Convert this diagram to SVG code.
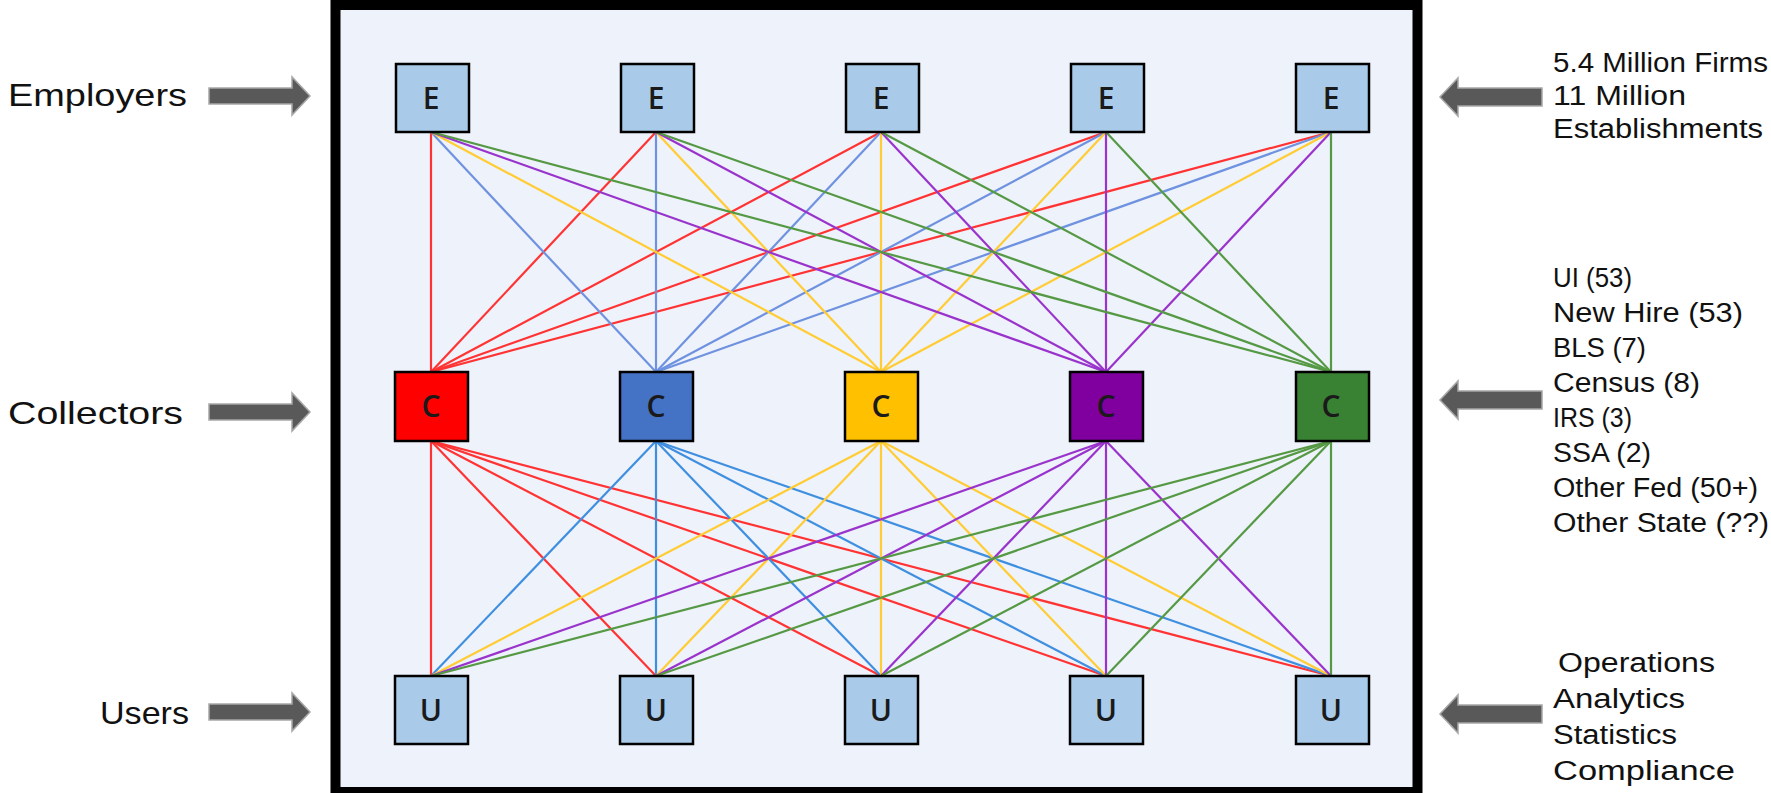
<svg xmlns="http://www.w3.org/2000/svg" width="1771" height="793" viewBox="0 0 1771 793">
<style>
.lbl{font-family:"Liberation Sans",Arial,sans-serif;font-size:32px;fill:#111}
.rt{font-family:"Liberation Sans",Arial,sans-serif;font-size:27px;fill:#111}
.box{stroke:#000;stroke-width:2.5}
.lt{fill:#a9cbe9}
.nl{font-family:"Open Sans","Liberation Sans",sans-serif;font-size:30px;font-weight:600;fill:#1a1a1a;text-anchor:middle}
.arr{fill:#595959;stroke:#a6a6a6;stroke-width:1.5}
#connectors line{stroke-width:2.2;fill:none}
.r{stroke:#ff3333}.b1{stroke:#6f92e0}.b2{stroke:#3f8fe0}.y{stroke:#ffcc33}.p{stroke:#9933cc}.g{stroke:#559944}
</style>
<rect x="0" y="0" width="1771" height="793" fill="#fff"/>
<rect id="frame" x="335.5" y="5" width="1082" height="787" fill="#eef2fa" stroke="#000" stroke-width="10"/>

<g id="connectors">
<line class="r" x1="431" y1="132" x2="431" y2="372"/>
<line class="r" x1="656" y1="132" x2="431" y2="372"/>
<line class="r" x1="881" y1="132" x2="431" y2="372"/>
<line class="r" x1="1106" y1="132" x2="431" y2="372"/>
<line class="r" x1="1331" y1="132" x2="431" y2="372"/>
<line class="b1" x1="431" y1="132" x2="656" y2="372"/>
<line class="b1" x1="656" y1="132" x2="656" y2="372"/>
<line class="b1" x1="881" y1="132" x2="656" y2="372"/>
<line class="b1" x1="1106" y1="132" x2="656" y2="372"/>
<line class="b1" x1="1331" y1="132" x2="656" y2="372"/>
<line class="y" x1="431" y1="132" x2="881" y2="372"/>
<line class="y" x1="656" y1="132" x2="881" y2="372"/>
<line class="y" x1="881" y1="132" x2="881" y2="372"/>
<line class="y" x1="1106" y1="132" x2="881" y2="372"/>
<line class="y" x1="1331" y1="132" x2="881" y2="372"/>
<line class="p" x1="431" y1="132" x2="1106" y2="372"/>
<line class="p" x1="656" y1="132" x2="1106" y2="372"/>
<line class="p" x1="881" y1="132" x2="1106" y2="372"/>
<line class="p" x1="1106" y1="132" x2="1106" y2="372"/>
<line class="p" x1="1331" y1="132" x2="1106" y2="372"/>
<line class="g" x1="431" y1="132" x2="1331" y2="372"/>
<line class="g" x1="656" y1="132" x2="1331" y2="372"/>
<line class="g" x1="881" y1="132" x2="1331" y2="372"/>
<line class="g" x1="1106" y1="132" x2="1331" y2="372"/>
<line class="g" x1="1331" y1="132" x2="1331" y2="372"/>
<line class="r" x1="431" y1="441" x2="431" y2="676"/>
<line class="r" x1="431" y1="441" x2="656" y2="676"/>
<line class="r" x1="431" y1="441" x2="881" y2="676"/>
<line class="r" x1="431" y1="441" x2="1106" y2="676"/>
<line class="r" x1="431" y1="441" x2="1331" y2="676"/>
<line class="b2" x1="656" y1="441" x2="431" y2="676"/>
<line class="b2" x1="656" y1="441" x2="656" y2="676"/>
<line class="b2" x1="656" y1="441" x2="881" y2="676"/>
<line class="b2" x1="656" y1="441" x2="1106" y2="676"/>
<line class="b2" x1="656" y1="441" x2="1331" y2="676"/>
<line class="y" x1="881" y1="441" x2="431" y2="676"/>
<line class="y" x1="881" y1="441" x2="656" y2="676"/>
<line class="y" x1="881" y1="441" x2="881" y2="676"/>
<line class="y" x1="881" y1="441" x2="1106" y2="676"/>
<line class="y" x1="881" y1="441" x2="1331" y2="676"/>
<line class="p" x1="1106" y1="441" x2="431" y2="676"/>
<line class="p" x1="1106" y1="441" x2="656" y2="676"/>
<line class="p" x1="1106" y1="441" x2="881" y2="676"/>
<line class="p" x1="1106" y1="441" x2="1106" y2="676"/>
<line class="p" x1="1106" y1="441" x2="1331" y2="676"/>
<line class="g" x1="1331" y1="441" x2="431" y2="676"/>
<line class="g" x1="1331" y1="441" x2="656" y2="676"/>
<line class="g" x1="1331" y1="441" x2="881" y2="676"/>
<line class="g" x1="1331" y1="441" x2="1106" y2="676"/>
<line class="g" x1="1331" y1="441" x2="1331" y2="676"/>
</g>

<g id="E1"><rect class="box lt" x="396" y="64" width="73" height="68"/><text class="nl" x="431" y="109">E</text></g>
<g id="E2"><rect class="box lt" x="621" y="64" width="73" height="68"/><text class="nl" x="656" y="109">E</text></g>
<g id="E3"><rect class="box lt" x="846" y="64" width="73" height="68"/><text class="nl" x="881" y="109">E</text></g>
<g id="E4"><rect class="box lt" x="1071" y="64" width="73" height="68"/><text class="nl" x="1106" y="109">E</text></g>
<g id="E5"><rect class="box lt" x="1296" y="64" width="73" height="68"/><text class="nl" x="1331" y="109">E</text></g>

<g id="C1"><rect class="box" fill="#ff0000" x="395" y="372" width="73" height="69"/><text class="nl" x="431" y="417">C</text></g>
<g id="C2"><rect class="box" fill="#4472c4" x="620" y="372" width="73" height="69"/><text class="nl" x="656" y="417">C</text></g>
<g id="C3"><rect class="box" fill="#ffc000" x="845" y="372" width="73" height="69"/><text class="nl" x="881" y="417">C</text></g>
<g id="C4"><rect class="box" fill="#7f009f" x="1070" y="372" width="73" height="69"/><text class="nl" x="1106" y="417">C</text></g>
<g id="C5"><rect class="box" fill="#3a8233" x="1296" y="372" width="73" height="69"/><text class="nl" x="1331" y="417">C</text></g>

<g id="U1"><rect class="box lt" x="395" y="676" width="73" height="68"/><text class="nl" x="431" y="721">U</text></g>
<g id="U2"><rect class="box lt" x="620" y="676" width="73" height="68"/><text class="nl" x="656" y="721">U</text></g>
<g id="U3"><rect class="box lt" x="845" y="676" width="73" height="68"/><text class="nl" x="881" y="721">U</text></g>
<g id="U4"><rect class="box lt" x="1070" y="676" width="73" height="68"/><text class="nl" x="1106" y="721">U</text></g>
<g id="U5"><rect class="box lt" x="1296" y="676" width="73" height="68"/><text class="nl" x="1331" y="721">U</text></g>

<g id="left-labels">
<text class="lbl" x="8" y="106" textLength="179" lengthAdjust="spacingAndGlyphs">Employers</text>
<polygon class="arr" points="209,88 292,88 292,77 310,96 292,115 292,104 209,104"/>
<text class="lbl" x="8" y="424" textLength="175" lengthAdjust="spacingAndGlyphs">Collectors</text>
<polygon class="arr" points="209,404 292,404 292,393 310,412 292,431 292,420 209,420"/>
<text class="lbl" x="100" y="724" textLength="89" lengthAdjust="spacingAndGlyphs">Users</text>
<polygon class="arr" points="209,704 292,704 292,693 310,712 292,731 292,720 209,720"/>
</g>

<g id="right-labels">
<polygon class="arr" points="1542,88 1458,88 1458,78 1440,97 1458,116 1458,106 1542,106"/>
<text class="rt" x="1553" y="72" textLength="215" lengthAdjust="spacingAndGlyphs">5.4 Million Firms</text>
<text class="rt" x="1553" y="105" textLength="133" lengthAdjust="spacingAndGlyphs">11 Million</text>
<text class="rt" x="1553" y="138" textLength="210" lengthAdjust="spacingAndGlyphs">Establishments</text>

<polygon class="arr" points="1542,391 1458,391 1458,381 1440,400 1458,419 1458,409 1542,409"/>
<text class="rt" x="1553" y="287" textLength="79" lengthAdjust="spacingAndGlyphs">UI (53)</text>
<text class="rt" x="1553" y="322" textLength="190" lengthAdjust="spacingAndGlyphs">New Hire (53)</text>
<text class="rt" x="1553" y="357" textLength="93" lengthAdjust="spacingAndGlyphs">BLS (7)</text>
<text class="rt" x="1553" y="392" textLength="147" lengthAdjust="spacingAndGlyphs">Census (8)</text>
<text class="rt" x="1553" y="427" textLength="79" lengthAdjust="spacingAndGlyphs">IRS (3)</text>
<text class="rt" x="1553" y="462" textLength="98" lengthAdjust="spacingAndGlyphs">SSA (2)</text>
<text class="rt" x="1553" y="497" textLength="205" lengthAdjust="spacingAndGlyphs">Other Fed (50+)</text>
<text class="rt" x="1553" y="532" textLength="216" lengthAdjust="spacingAndGlyphs">Other State (??)</text>

<polygon class="arr" points="1542,705 1458,705 1458,695 1440,714 1458,733 1458,723 1542,723"/>
<text class="rt" x="1558" y="672" textLength="157" lengthAdjust="spacingAndGlyphs">Operations</text>
<text class="rt" x="1553" y="708" textLength="132" lengthAdjust="spacingAndGlyphs">Analytics</text>
<text class="rt" x="1553" y="744" textLength="124" lengthAdjust="spacingAndGlyphs">Statistics</text>
<text class="rt" x="1553" y="780" textLength="182" lengthAdjust="spacingAndGlyphs">Compliance</text>
</g>
</svg>
